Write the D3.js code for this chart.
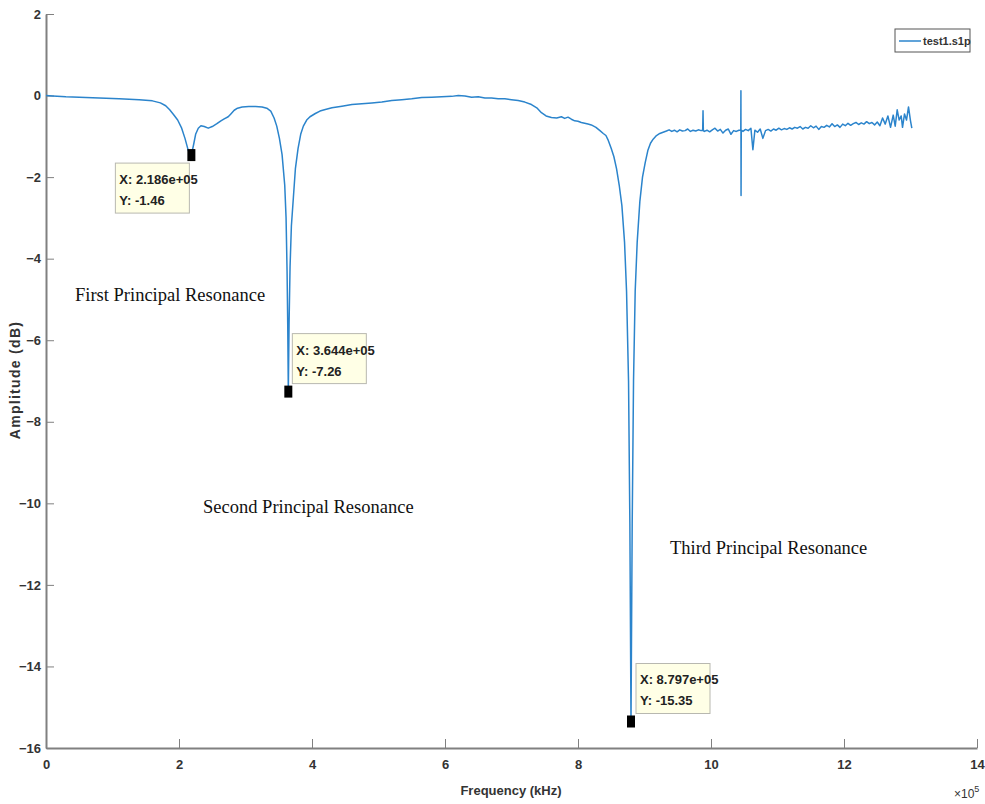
<!DOCTYPE html>
<html>
<head>
<meta charset="utf-8">
<script src="https://cdn.jsdelivr.net/npm/d3@7"></script>
<style>
  body { margin: 0; background: #fff; }
  svg { display: block; }
  .axis path, .axis line { stroke: #808080; }
  .axis text { font-family: "Liberation Sans", Arial, sans-serif; font-weight: bold; font-size: 13px; fill: #333; }
  .tip text { font-family: "Liberation Sans", Arial, sans-serif; font-weight: bold; font-size: 13px; fill: #222; }
  .note { font-family: "Liberation Serif", "Times New Roman", serif; font-size: 18.5px; fill: #111; }
</style>
</head>
<body>
<svg id="chart" width="985" height="804"></svg>
<script>
// frequency in units of 1e5 (axis shows x10^5)
var freq = [
  0, 0.1, 0.3, 0.5, 0.8, 1.1, 1.4, 1.6, 1.72, 1.8, 1.86, 1.92, 1.98, 2.04, 2.09, 2.14, 2.186,
  2.22, 2.25, 2.29, 2.33, 2.38, 2.44, 2.5, 2.57, 2.63, 2.68, 2.74, 2.78, 2.83, 2.88, 2.95,
  3.05, 3.15, 3.25, 3.32, 3.38, 3.43, 3.47, 3.51, 3.55, 3.59, 3.61, 3.625, 3.635, 3.644,
  3.655, 3.67, 3.69, 3.72, 3.75, 3.79, 3.83, 3.87, 3.92, 3.97, 4.05, 4.12, 4.2, 4.3, 4.45,
  4.6, 4.75, 4.9, 5.05, 5.2, 5.35, 5.5, 5.65, 5.8, 5.95, 6.1, 6.2, 6.3, 6.4, 6.5, 6.6, 6.7,
  6.8, 6.9, 7.0, 7.1, 7.2, 7.3, 7.38, 7.45, 7.52, 7.6, 7.68, 7.75, 7.8, 7.85, 7.9, 7.95,
  8.0, 8.05, 8.1, 8.15, 8.2, 8.27, 8.33, 8.38, 8.42, 8.45, 8.5, 8.54, 8.58, 8.62, 8.66,
  8.7, 8.73, 8.76, 8.78, 8.797, 8.815, 8.835, 8.86, 8.89, 8.93, 8.97, 9.01, 9.05, 9.09,
  9.13, 9.18, 9.23, 9.28, 9.33, 9.37, 9.41, 9.45, 9.49, 9.53, 9.57, 9.61, 9.65, 9.69,
  9.73, 9.77, 9.81, 9.85, 9.875, 9.88, 9.885, 9.9, 9.94, 9.98, 10.02, 10.06, 10.1, 10.14,
  10.18, 10.22, 10.26, 10.3, 10.34, 10.38, 10.42, 10.448, 10.45, 10.452, 10.455, 10.48,
  10.52, 10.56, 10.6, 10.63, 10.66, 10.7, 10.74, 10.78, 10.82, 10.86, 10.9, 10.94, 10.98,
  11.02, 11.06, 11.1, 11.14, 11.18, 11.22, 11.26, 11.3, 11.34, 11.38, 11.42, 11.46, 11.5,
  11.54, 11.58, 11.62, 11.66, 11.7, 11.74, 11.78, 11.82, 11.86, 11.9, 11.94, 11.98, 12.02,
  12.06, 12.1, 12.14, 12.18, 12.22, 12.26, 12.3, 12.34, 12.38, 12.42, 12.46, 12.5, 12.54,
  12.58, 12.62, 12.66, 12.7, 12.74, 12.77, 12.8, 12.83, 12.86, 12.88, 12.91, 12.94, 12.97,
  13.0, 13.02
]
var amp = [
  0, -0.01, -0.03, -0.04, -0.06, -0.08, -0.1, -0.13, -0.18, -0.25, -0.35, -0.47, -0.6, -0.8, -1.05, -1.35, -1.46,
  -1.2, -0.95, -0.8, -0.74, -0.76, -0.8, -0.76, -0.69, -0.62, -0.57, -0.52, -0.45, -0.36, -0.31, -0.28,
  -0.27, -0.27, -0.28, -0.31, -0.38, -0.55, -0.75, -1.05, -1.45, -2.2, -3.0, -4.3, -5.6, -7.26,
  -5.6, -4.2, -3.2, -2.5, -1.8, -1.3, -0.95, -0.75, -0.6, -0.52, -0.44, -0.38, -0.34, -0.3, -0.26,
  -0.22, -0.2, -0.18, -0.16, -0.12, -0.1, -0.08, -0.05, -0.04, -0.03, -0.02, 0.0, -0.01, -0.04, -0.03, -0.06, -0.06,
  -0.08, -0.08, -0.1, -0.12, -0.16, -0.22, -0.3, -0.42, -0.5, -0.54, -0.55, -0.52, -0.56, -0.53, -0.58, -0.62,
  -0.63, -0.66, -0.68, -0.7, -0.72, -0.78, -0.86, -0.93, -0.98, -1.08, -1.3, -1.5, -1.8, -2.2, -2.7,
  -3.6, -4.8, -7.0, -10.5, -15.35, -10.5, -7.0, -4.8, -3.6, -2.6, -2.0, -1.65, -1.35, -1.17,
  -1.07, -0.98, -0.93, -0.9, -0.87, -0.84, -0.88, -0.85, -0.89, -0.84, -0.87, -0.86, -0.82, -0.88,
  -0.85, -0.87, -0.84, -0.86, -0.86, -0.37, -0.86, -0.88, -0.85, -0.89, -0.84, -0.8, -0.87, -0.83,
  -0.92, -0.85, -0.82, -0.95, -0.86, -0.88, -0.85, -0.85, 0.12, -2.45, -0.85, -0.88,
  -0.83, -0.86, -0.8, -1.33, -0.85, -0.9, -0.82, -1.05, -0.86, -0.83, -0.87, -0.82, -0.85,
  -0.8, -0.84, -0.81, -0.83, -0.79, -0.82, -0.78, -0.8, -0.76, -0.82, -0.78, -0.8, -0.74,
  -0.79, -0.75, -0.83, -0.76, -0.78, -0.73, -0.77, -0.69, -0.76, -0.72, -0.78, -0.7, -0.74,
  -0.68, -0.73, -0.69, -0.66, -0.71, -0.67, -0.7, -0.64, -0.69, -0.66, -0.72, -0.65, -0.74,
  -0.55, -0.7, -0.5, -0.78, -0.48, -0.75, -0.35, -0.6, -0.5, -0.78, -0.45, -0.6, -0.28,
  -0.62, -0.8
]

// marked data tips
var tipX = [2.186, 3.644, 8.797]
var tipY = [-1.46, -7.26, -15.35]
var tipXLabel = ['X: 2.186e+05', 'X: 3.644e+05', 'X: 8.797e+05']
var tipYLabel = ['Y: -1.46', 'Y: -7.26', 'Y: -15.35']

var xTicks = [0, 2, 4, 6, 8, 10, 12, 14]
var yTicks = [2, 0, -2, -4, -6, -8, -10, -12, -14, -16]

var notes = ['First Principal Resonance', 'Second Principal Resonance', 'Third Principal Resonance']
var seriesName = 'test1.s1p'

var svg = d3.select('#chart')

var x = d3.scaleLinear().domain([0, 14]).range([46, 977])
var y = d3.scaleLinear().domain([-16, 2]).range([748, 14])

var sans = 'Liberation Sans, Arial, sans-serif'

/*
  axes
*/
var gx = svg.append('g')
    .attr('class', 'axis')
    .attr('transform', 'translate(0,748)')
    .call(d3.axisBottom(x).tickValues(xTicks).tickSizeInner(-9).tickSizeOuter(0).tickPadding(12))
gx.select('.domain').attr('stroke-width', 2)
gx.selectAll('.tick line').attr('stroke-width', 1)

var gy = svg.append('g')
    .attr('class', 'axis')
    .attr('transform', 'translate(46,0)')
    .call(d3.axisLeft(y).tickValues(yTicks).tickSizeInner(-8).tickSizeOuter(0).tickPadding(5))
gy.select('.domain').attr('stroke-width', 2)

svg.append('text')
    .attr('transform', 'translate(20,380) rotate(-90)')
    .attr('text-anchor', 'middle')
    .style('font-family', sans)
    .style('font-weight', 'bold')
    .style('font-size', '14px')
    .style('letter-spacing', '1.3px')
    .style('fill', '#333')
    .text('Amplitude (dB)')

svg.append('text')
    .attr('x', 511).attr('y', 795)
    .attr('text-anchor', 'middle')
    .style('font-family', sans)
    .style('font-weight', 'bold')
    .style('font-size', '13px')
    .style('fill', '#333')
    .text('Frequency (kHz)')

var exp = svg.append('text')
    .attr('x', 954).attr('y', 798)
    .style('font-family', sans)
    .style('font-size', '12px')
    .style('fill', '#333')
exp.append('tspan').text('\u00d710')
exp.append('tspan').attr('dy', -6).style('font-size', '9px').text('5')

/*
  data line
*/
var pts = freq.map((f, i) => [f, amp[i]])
var line = d3.line().x(d => x(d[0])).y(d => y(d[1]))

svg.append('path')
    .datum(pts)
    .attr('d', line)
    .attr('fill', 'none')
    .attr('stroke', '#2b84cc')
    .attr('stroke-width', 1.5)
    .attr('stroke-linejoin', 'round')

/*
  data tips: marker + yellow box
*/
var boxOff = [[-76, 8], [4, -58], [5, -58]]
tipX.forEach(function (tx, i) {
  var px = x(tx)
  var py = y(tipY[i])
  svg.append('rect')
      .attr('x', px - 4).attr('y', py - 6)
      .attr('width', 8).attr('height', 12)
      .attr('fill', '#000')
  var g = svg.append('g').attr('class', 'tip')
      .attr('transform', `translate(${px + boxOff[i][0]},${py + boxOff[i][1]})`)
  g.append('rect')
      .attr('width', 74).attr('height', 50)
      .attr('fill', '#ffffe6')
      .attr('stroke', '#b8b8b0')
  g.append('text').attr('x', 4).attr('y', 21).text(tipXLabel[i])
  g.append('text').attr('x', 4).attr('y', 42).text(tipYLabel[i])
})

/*
  annotations
*/
var notePos = [[75, 301], [203, 513], [670, 554]]
svg.selectAll('.note')
    .data(notes)
    .enter()
    .append('text')
    .attr('class', 'note')
    .attr('x', (d, i) => notePos[i][0])
    .attr('y', (d, i) => notePos[i][1])
    .text(d => d)

/*
  legend
*/
var lg = svg.append('g').attr('transform', 'translate(895,29)')
lg.append('rect')
    .attr('width', 75).attr('height', 23)
    .attr('fill', '#fff')
    .attr('stroke', '#555')
lg.append('line')
    .attr('x1', 4).attr('x2', 26).attr('y1', 12).attr('y2', 12)
    .attr('stroke', '#2b84cc').attr('stroke-width', 1.5)
lg.append('text')
    .attr('x', 28).attr('y', 16)
    .style('font-family', sans)
    .style('font-weight', 'bold')
    .style('font-size', '11px')
    .style('fill', '#333')
    .text(seriesName)
</script>
</body>
</html>
